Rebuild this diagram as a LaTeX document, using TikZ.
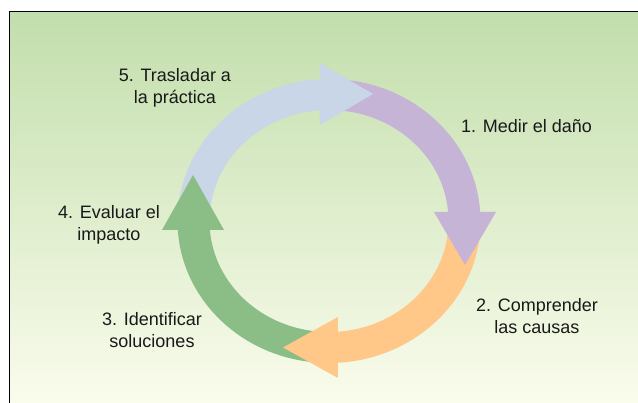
\documentclass[tikz,border=0pt]{standalone}
\usepackage{fontspec}
\setmainfont{Liberation Sans}
\definecolor{bgtop}{RGB}{194,222,172}
\definecolor{bgbot}{RGB}{250,252,236}
\definecolor{cblue}{RGB}{200,214,232}
\definecolor{cpurple}{RGB}{197,180,214}
\definecolor{corange}{RGB}{255,200,136}
\definecolor{cgreen}{RGB}{138,190,134}
\newcommand\arcband[3]{\fill[#1] (#2:151.5pt and 142pt) arc[start angle=#2, end angle=#3, x radius=151.5pt, y radius=142pt] -- (#3:119.5pt and 111pt) arc[start angle=#3, end angle=#2, x radius=119.5pt, y radius=111pt] -- cycle;}
\begin{document}
\begin{tikzpicture}[x=1pt,y=1pt,
  lbl/.style={font=\fontsize{18}{22}\selectfont, align=center, inner sep=0pt, text=black!90}]
\useasboundingbox (-329,-182) rectangle (309,221);
\fill[white] (-329,-182) rectangle (309,221);
\shade[top color=bgtop, bottom color=bgbot] (-319.5,-182) rectangle (309,209.5);
\draw[line width=1.2pt] (-319.5,-183) -- (-319.5,209.5) -- (310,209.5);
% arrow bodies
\arcband{cblue}{180}{90}
\arcband{cpurple}{88}{0}
\arcband{corange}{-2}{-90}
\arcband{cgreen}{-92}{-180}
% arrow heads
\fill[cblue] (-9,96) -- (44,127) -- (-9,158) -- cycle;
\fill[cpurple] (105,9) -- (167,9) -- (136,-44) -- cycle;
\fill[corange] (9,-96) -- (9,-157) -- (-46,-126.5) -- cycle;
\fill[cgreen] (-167,-9) -- (-105,-9) -- (-136,46) -- cycle;
% labels
\node[lbl, anchor=base] (l1) at (197.5,88) {1. Medir el daño};
\node[lbl] (l2) at (208,-95) {2. Comprender\\las causas};
\node[lbl] (l3) at (-177,-109) {3. Identificar\\soluciones};
\node[lbl] (l4) at (-220,-4) {4. Evaluar el\\impacto};
\node[lbl] (l5) at (-154,133) {5. Trasladar a\\la práctica};
\end{tikzpicture}
\end{document}
